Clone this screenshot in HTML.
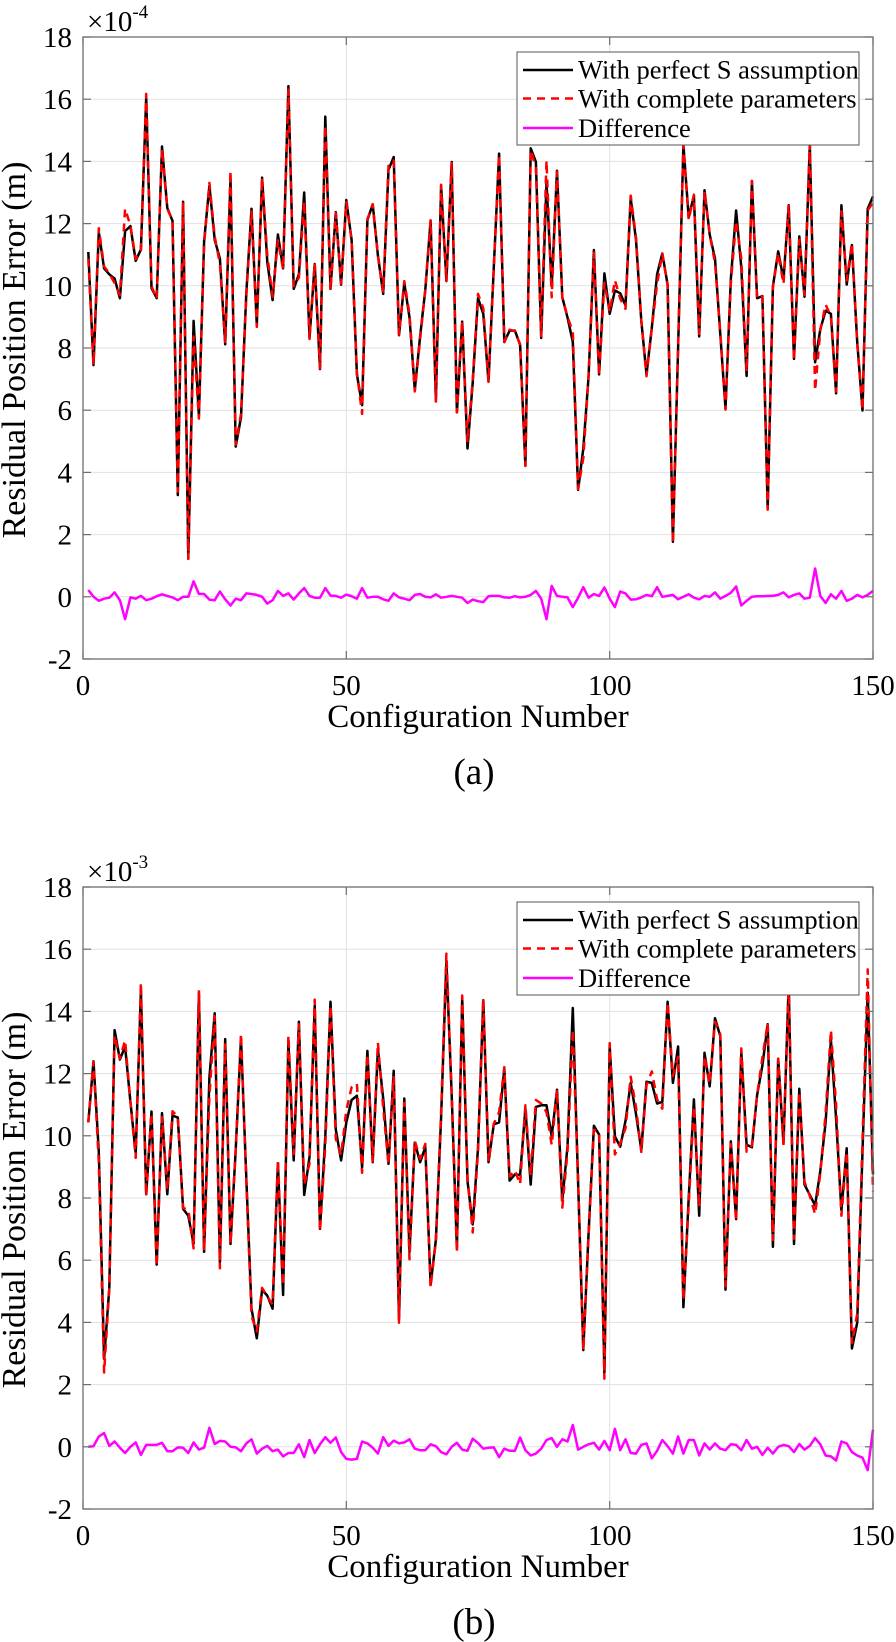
<!DOCTYPE html>
<html><head><meta charset="utf-8">
<style>
html,body{margin:0;padding:0;background:#fff}
svg{display:block}
svg text{font-family:"Liberation Serif","DejaVu Serif",serif;fill:#000}
</style></head><body>
<svg id="s" width="896" height="1642" xmlns="http://www.w3.org/2000/svg" font-family="'Liberation Serif','DejaVu Serif',serif" style="font-family:'Liberation Serif','DejaVu Serif',serif">
<rect width="896" height="1642" fill="#fff"/>
<g id="pa"></g>
<g id="pb"></g>

<!-- Panel (a) static text -->
<g font-size="29" text-anchor="end" font-family="'Liberation Serif',serif">
<text x="72" y="47">18</text><text x="72" y="109.2">16</text><text x="72" y="171.4">14</text><text x="72" y="233.6">12</text><text x="72" y="295.8">10</text><text x="72" y="358">8</text><text x="72" y="420.2">6</text><text x="72" y="482.4">4</text><text x="72" y="544.6">2</text><text x="72" y="606.8">0</text><text x="72" y="669">-2</text>
</g>
<g font-size="29" text-anchor="middle" font-family="'Liberation Serif',serif">
<text x="83" y="695">0</text><text x="346.3" y="695">50</text><text x="609.7" y="695">100</text><text x="873" y="695">150</text>
</g>
<text x="87" y="31" font-size="29" font-family="'Liberation Serif',serif">×10<tspan font-size="19" dy="-13">-4</tspan></text>
<text x="478" y="727" font-size="33" text-anchor="middle" font-family="'Liberation Serif',serif">Configuration Number</text>
<text transform="translate(25,350) rotate(-90)" font-size="34" text-anchor="middle" font-family="'Liberation Serif',serif">Residual Position Error (m)</text>
<text x="474" y="784" font-size="37" text-anchor="middle" font-family="'Liberation Serif',serif">(a)</text>
<rect x="517" y="52" width="342" height="93" fill="#fff" stroke="#555" stroke-width="1"/>
<line x1="523" x2="573" y1="70" y2="70" stroke="#000" stroke-width="2.4"/>
<line x1="523" x2="573" y1="98.5" y2="98.5" stroke="#f00" stroke-width="2.4" stroke-dasharray="8,6"/>
<line x1="523" x2="573" y1="128" y2="128" stroke="#f0f" stroke-width="2.4"/>
<g font-size="26.5" font-family="'Liberation Serif',serif"><text x="578" y="78.5">With perfect S assumption</text><text x="578" y="107.5">With complete parameters</text><text x="578" y="137">Difference</text></g>

<!-- Panel (b) static text -->
<g transform="translate(0,850)" font-family="'Liberation Serif',serif">
<g font-size="29" text-anchor="end">
<text x="72" y="47">18</text><text x="72" y="109.2">16</text><text x="72" y="171.4">14</text><text x="72" y="233.6">12</text><text x="72" y="295.8">10</text><text x="72" y="358">8</text><text x="72" y="420.2">6</text><text x="72" y="482.4">4</text><text x="72" y="544.6">2</text><text x="72" y="606.8">0</text><text x="72" y="669">-2</text>
</g>
<g font-size="29" text-anchor="middle">
<text x="83" y="695">0</text><text x="346.3" y="695">50</text><text x="609.7" y="695">100</text><text x="873" y="695">150</text>
</g>
<text x="87" y="31" font-size="29">×10<tspan font-size="19" dy="-13">-3</tspan></text>
<text x="478" y="727" font-size="33" text-anchor="middle">Configuration Number</text>
<text transform="translate(25,350) rotate(-90)" font-size="34" text-anchor="middle">Residual Position Error (m)</text>
<text x="474" y="784" font-size="37" text-anchor="middle">(b)</text>
<rect x="517" y="52" width="342" height="93" fill="#fff" stroke="#555" stroke-width="1"/>
<line x1="523" x2="573" y1="70" y2="70" stroke="#000" stroke-width="2.4"/>
<line x1="523" x2="573" y1="98.5" y2="98.5" stroke="#f00" stroke-width="2.4" stroke-dasharray="8,6"/>
<line x1="523" x2="573" y1="128" y2="128" stroke="#f0f" stroke-width="2.4"/>
<g font-size="26.5"><text x="578" y="78.5">With perfect S assumption</text><text x="578" y="107.5">With complete parameters</text><text x="578" y="137">Difference</text></g>
</g>
</svg>
<script>
var A_black=[11.09,7.45,11.72,10.56,10.37,10.23,9.6,11.76,11.92,10.8,11.17,16.06,9.93,9.6,14.48,12.5,12.09,3.27,12.7,1.22,8.87,5.82,11.43,13.22,11.48,10.87,8.12,13.42,4.83,5.77,9.76,12.48,8.74,13.48,10.76,9.54,11.65,10.56,16.42,9.9,10.37,13.0,8.32,10.7,7.32,15.44,9.9,12.37,10.04,12.76,11.48,7.15,6.16,12.11,12.62,10.98,9.74,13.73,14.14,8.41,10.09,8.98,6.66,8.37,9.87,12.09,6.32,13.22,10.15,13.98,5.93,8.85,4.77,6.88,9.6,9.1,6.93,10.6,14.25,8.19,8.56,8.56,8.1,4.21,14.42,13.98,8.32,13.31,9.98,13.7,9.63,8.98,8.2,3.44,4.77,7.1,11.15,7.15,10.4,9.1,9.85,9.76,9.37,12.81,11.48,8.87,7.15,8.65,10.37,11.04,10.04,1.77,8.0,14.53,12.2,12.9,8.37,13.07,11.65,10.87,8.43,6.05,10.2,12.42,10.59,7.1,13.37,9.6,9.67,2.83,9.98,11.11,10.2,12.59,7.65,11.59,9.65,14.53,7.54,8.6,9.2,9.1,6.54,12.59,10.04,11.31,8.2,5.99,12.48,12.87];
var A_diff=[0.22,0,-0.13,-0.06,-0.03,0.14,-0.11,-0.72,-0.02,-0.06,0.03,-0.11,-0.06,0.02,0.08,0.03,-0.02,-0.11,0,0,0.5,0.09,0.09,-0.09,-0.11,0.17,-0.08,-0.28,-0.06,-0.11,0.11,0.09,0.06,0,-0.22,-0.11,0.19,0.03,0.11,-0.09,0.11,0.28,0.03,-0.03,-0.03,0.28,0.04,0.03,-0.03,0.07,0.02,-0.06,0.28,-0.03,0,0,-0.08,-0.13,0.11,-0.02,-0.06,-0.11,0.06,0.09,0,-0.02,0.08,-0.03,0,0.03,0,-0.03,-0.2,-0.09,-0.14,-0.17,0.02,0.03,0.03,-0.02,-0.03,0.02,-0.02,0,0.06,0.19,-0.06,-0.72,0.35,0.03,0,-0.02,-0.33,-0.03,0.31,-0.03,0.09,0.03,0.3,-0.06,-0.33,0.17,0.11,-0.09,-0.08,-0.02,0.06,0.02,0.31,0,0.03,0.06,-0.08,0,0.08,-0.03,-0.08,0.03,0,0.14,-0.06,0.03,0.13,0.33,-0.28,-0.13,0,0.02,0.02,0.03,0.03,0.06,0.14,-0.02,0.06,0.11,-0.06,-0.03,0.91,0.03,-0.2,0.08,-0.06,0.19,-0.13,-0.06,0.06,-0.02,0.06,0.19];
var B_black=[10.43,12.4,9.48,2.83,5.1,13.4,12.45,12.87,11.1,9.43,14.66,8.12,10.78,5.86,10.73,8.12,10.65,10.59,7.65,7.43,6.52,14.59,6.27,11.87,13.94,5.93,13.11,6.52,9.54,13.14,8.65,4.44,3.49,5.05,4.86,4.44,9.12,4.88,13.03,9.21,13.67,8.1,9.32,14.18,7.01,9.98,14.31,10.2,9.21,10.43,11.15,11.29,8.98,12.73,9.15,12.78,11.2,9.1,12.09,4.1,11.2,6.27,9.78,9.15,9.63,5.21,6.66,10.59,15.62,11.31,6.38,14.42,8.54,7.15,9.6,14.36,9.15,10.37,10.43,12.15,8.56,8.76,8.74,10.87,8.43,10.93,10.98,10.98,9.98,11.48,7.93,9.65,14.11,8.5,3.11,6.88,10.32,10.04,2.38,12.87,9.98,9.65,10.48,11.7,10.7,9.54,11.74,11.7,11.04,11.09,14.31,11.7,12.87,4.49,8.0,11.17,7.43,12.67,11.59,13.78,13.2,5.05,9.82,7.32,12.7,9.71,9.63,11.31,12.26,13.59,6.43,12.48,9.76,14.9,6.52,11.51,8.43,8.1,7.76,8.87,10.43,13.09,10.54,7.6,9.6,3.16,3.99,9.5,14.6,8.76];
var B_diff=[0,0.02,0.33,0.44,0.03,0.17,-0.03,-0.2,0,0.14,-0.26,0.06,0.06,0.06,0.13,-0.14,-0.14,-0.02,-0.03,-0.2,0.14,-0.09,-0.03,0.61,0.09,0.19,0.17,0,-0.02,-0.14,0.11,0.24,-0.22,-0.06,0.03,-0.14,-0.09,-0.31,-0.2,-0.2,0.08,-0.33,0.22,-0.2,0.08,0.31,0.13,0.3,-0.17,-0.39,-0.41,-0.39,0.17,0.11,-0.03,-0.22,0.31,0.03,0.2,0.11,0.14,0.24,-0.06,-0.11,-0.11,0.08,0.02,-0.17,-0.24,0,0.13,-0.09,-0.13,0.26,0.12,-0.06,-0.03,-0.02,-0.33,-0.06,-0.13,-0.13,0.3,-0.11,-0.28,-0.22,-0.06,0.22,0.28,0,0.24,0.17,0.7,-0.09,0,0.08,0.13,-0.09,0.19,-0.11,0.58,-0.11,0.24,-0.2,-0.22,0.06,0.11,-0.37,-0.13,0.22,0.02,-0.22,0.33,-0.22,0.22,0.22,-0.28,0.11,-0.09,0.11,-0.06,-0.11,0.08,0.06,-0.11,0.22,-0.06,0,-0.26,-0.03,-0.22,0,0.06,0.02,-0.17,0.09,-0.09,0.03,0.28,0.08,-0.28,-0.31,-0.44,0.17,0.11,-0.17,-0.28,-0.35,-0.75,0.55];

function build(id, black, diff, off){
  var L=83,R=873,T=37+off,B=659+off;
  function X(i){return L+i*(R-L)/150;}
  function Y(v){return B-(v+2)*31.1;}
  var s='', v, k;
  for(v=0; v<=16; v+=2){ var y=Y(v).toFixed(1); s+='<line x1="'+L+'" x2="'+R+'" y1="'+y+'" y2="'+y+'" stroke="#e1e1e1" stroke-width="1"/>'; }
  [50,100].forEach(function(xv){ var x=X(xv).toFixed(1); s+='<line x1="'+x+'" x2="'+x+'" y1="'+T+'" y2="'+B+'" stroke="#e1e1e1" stroke-width="1"/>'; });
  var pb=[],pr=[],pd=[];
  for(k=0;k<150;k++){
    var x=X(k+1).toFixed(1);
    pb.push(x+','+Y(black[k]).toFixed(1));
    pr.push(x+','+Y(black[k]-diff[k]).toFixed(1));
    pd.push(x+','+Y(diff[k]).toFixed(1));
  }
  s+='<polyline points="'+pb.join(' ')+'" fill="none" stroke="#000" stroke-width="2.5" stroke-linejoin="round"/>';
  s+='<polyline points="'+pr.join(' ')+'" fill="none" stroke="#f00" stroke-width="2.5" stroke-dasharray="8,6" stroke-linejoin="round"/>';
  s+='<polyline points="'+pd.join(' ')+'" fill="none" stroke="#f0f" stroke-width="2.5" stroke-linejoin="round"/>';
  var ac='#6e6e6e';
  s+='<rect x="'+L+'" y="'+T+'" width="'+(R-L)+'" height="'+(B-T)+'" fill="none" stroke="'+ac+'" stroke-width="1.3"/>';
  for(v=-2; v<=18; v+=2){ var yy=Y(v).toFixed(1);
    s+='<line x1="'+L+'" x2="'+(L+8)+'" y1="'+yy+'" y2="'+yy+'" stroke="'+ac+'" stroke-width="1.2"/>';
    s+='<line x1="'+(R-8)+'" x2="'+R+'" y1="'+yy+'" y2="'+yy+'" stroke="'+ac+'" stroke-width="1.2"/>'; }
  [0,50,100,150].forEach(function(xv){ var x=X(xv).toFixed(1);
    s+='<line x1="'+x+'" x2="'+x+'" y1="'+(B-8)+'" y2="'+B+'" stroke="'+ac+'" stroke-width="1.2"/>';
    s+='<line x1="'+x+'" x2="'+x+'" y1="'+T+'" y2="'+(T+8)+'" stroke="'+ac+'" stroke-width="1.2"/>'; });
  document.getElementById(id).innerHTML=s;
}
build('pa',A_black,A_diff,0);
build('pb',B_black,B_diff,850);
</script>
</body></html>
